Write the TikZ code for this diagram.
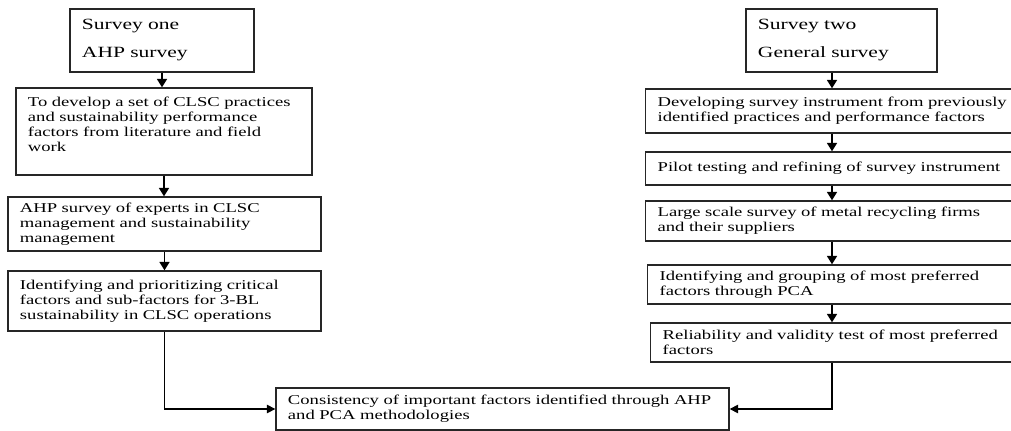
\documentclass[tikz,border=0pt]{standalone}
\usepackage{fontspec}
\setmainfont{Liberation Serif}[FakeStretch=1.38]
\usetikzlibrary{arrows.meta}

\begin{document}
\begin{tikzpicture}[
  x=0.025cm, y=-0.025cm,
  every node/.style={font=\fontsize{9.6}{10.7}\selectfont, align=left},
  stepbox/.style={rectangle, draw=black!85, line width=0.9pt,
        fill=white, inner xsep=0.3cm, inner ysep=0pt},
  headbox/.style={stepbox, font=\fontsize{11.1}{19.9}\selectfont},
  flow/.style={draw=black, line width=1.4pt,
        -{Triangle[length=6pt, width=7pt]}},
  merge/.style={draw=black, line width=1.1pt,
        -{Triangle[length=6pt, width=6pt]}}
]
  \useasboundingbox (0,0) rectangle (1011,431);

  % Survey one (AHP)
  \node[headbox, text width=4.0cm, minimum height=1.575cm]
    (one) at (162, 40.5) {Survey one\\AHP survey};
  \node[stepbox, text width=6.8cm, minimum height=2.175cm]
    (develop) at (164, 131.5)
    {To develop a set of CLSC practices\\and sustainability performance\\factors from literature and field\\work\\\mbox{}};
  \node[stepbox, text width=7.225cm, minimum height=1.35cm]
    (experts) at (164.5, 224)
    {AHP survey of experts in CLSC\\management and sustainability\\management};
  \node[stepbox, text width=7.225cm, minimum height=1.5cm]
    (prioritize) at (164.5, 301)
    {Identifying and prioritizing critical\\factors and sub-factors for 3-BL\\sustainability in CLSC operations};

  % Survey two (general)
  \node[headbox, text width=4.175cm, minimum height=1.575cm]
    (two) at (841.5, 40.5) {Survey two\\General survey};
  \coordinate (spine) at (832, 0);
  \node[stepbox, anchor=west, text width=9.5cm, minimum height=1.1cm]
    (instrument) at (645, 111)
    {Developing survey instrument from previously\\identified practices and performance factors};
  \node[stepbox, anchor=west, text width=9.5cm, minimum height=0.825cm]
    (pilot) at (645, 168.5)
    {Pilot testing and refining of survey instrument};
  \node[stepbox, anchor=west, text width=9.5cm, minimum height=1.0cm]
    (largescale) at (645, 221)
    {Large scale survey of metal recycling firms\\and their suppliers};
  \node[stepbox, anchor=west, text width=9.5cm, minimum height=0.975cm]
    (grouping) at (647, 284.5)
    {Identifying and grouping of most preferred\\factors through PCA};
  \node[stepbox, anchor=west, text width=9.5cm, minimum height=0.975cm]
    (reliability) at (650, 342.5)
    {Reliability and validity test of most preferred\\factors};

  % Common result
  \node[stepbox, text width=10.725cm, minimum height=1.05cm]
    (consistency) at (502.5, 409)
    {Consistency of important factors identified through AHP\\and PCA methodologies};

  % Arrows, left column
  \draw[flow] (one.south) -- (one.south |- develop.north);
  \draw[flow] (develop.south) -- (develop.south |- experts.north);
  \draw[flow] (experts.south) -- (experts.south |- prioritize.north);

  % Arrows, right column
  \draw[flow] (two.south -| spine) -- (instrument.north -| spine);
  \draw[flow] (instrument.south -| spine) -- (pilot.north -| spine);
  \draw[flow] (pilot.south -| spine) -- (largescale.north -| spine);
  \draw[flow] (largescale.south -| spine) -- (grouping.north -| spine);
  \draw[flow] (grouping.south -| spine) -- (reliability.north -| spine);

  % Both surveys into the result
  \draw[merge] (prioritize.south) |- (consistency.west);
  \draw[merge] (reliability.south -| spine) |- (consistency.east);
\end{tikzpicture}
\end{document}
